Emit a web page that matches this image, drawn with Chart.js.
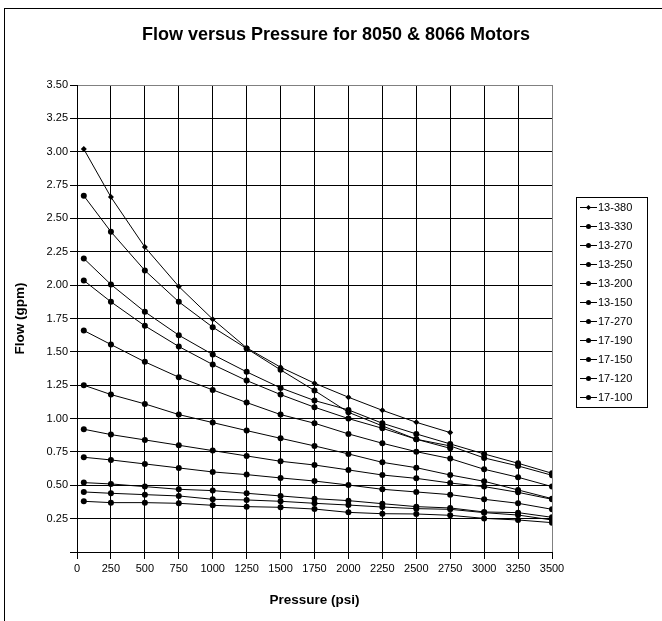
<!DOCTYPE html>
<html><head><meta charset="utf-8">
<script src="https://cdn.jsdelivr.net/npm/chart.js@4.4.1/dist/chart.umd.min.js"></script>
<style>html,body{margin:0;padding:0;background:#fff}canvas{display:block}</style>
</head><body>
<canvas id="c" width="662" height="621"></canvas>
<script>
const pressure = [50,250,500,750,1000,1250,1500,1750,2000,2250,2500,2750,3000,3250,3500];
const seriesNames = ['13-380','13-330','13-270','13-250','13-200','13-150','17-270','17-190','17-150','17-120','17-100'];
const flow_13_380 = [3.02,2.66,2.285,1.99,1.745,1.53,1.385,1.265,1.16,1.062,0.972,0.895];
const flow_13_330 = [2.67,2.40,2.11,1.875,1.685,1.525,1.365,1.21,1.047,0.945,0.845,0.777];
const flow_13_270 = [2.20,2.005,1.80,1.625,1.48,1.35,1.23,1.135,1.065,0.965,0.885,0.81,0.735,0.665,0.59];
const flow_13_250 = [2.035,1.875,1.695,1.54,1.405,1.285,1.18,1.085,1.00,0.927,0.845,0.795,0.705,0.645,0.575];
const flow_13_200 = [1.66,1.555,1.425,1.31,1.215,1.12,1.03,0.965,0.885,0.815,0.752,0.70,0.62,0.56,0.49];
const flow_13_150 = [1.25,1.18,1.11,1.03,0.97,0.91,0.852,0.795,0.735,0.672,0.632,0.577,0.53,0.465,0.40];
const flow_17_270 = [0.92,0.88,0.84,0.80,0.76,0.72,0.68,0.652,0.615,0.577,0.552,0.517,0.49,0.447,0.395];
const flow_17_190 = [0.71,0.69,0.66,0.63,0.60,0.58,0.555,0.532,0.502,0.47,0.45,0.43,0.395,0.365,0.32];
const flow_17_150 = [0.52,0.51,0.49,0.47,0.46,0.44,0.42,0.40,0.385,0.362,0.34,0.33,0.30,0.295,0.26];
const flow_17_120 = [0.45,0.44,0.43,0.42,0.395,0.39,0.38,0.365,0.352,0.337,0.325,0.32,0.295,0.277,0.24];
const flow_17_100 = [0.38,0.37,0.37,0.365,0.35,0.34,0.335,0.322,0.297,0.287,0.285,0.275,0.252,0.24,0.22];
const xTicks = [0,250,500,750,1000,1250,1500,1750,2000,2250,2500,2750,3000,3250,3500];
const yTicks = [0,0.25,0.5,0.75,1,1.25,1.5,1.75,2,2.25,2.5,2.75,3,3.25,3.5];
const yTickLabels = ['','0.25','0.50','0.75','1.00','1.25','1.50','1.75','2.00','2.25','2.50','2.75','3.00','3.25','3.50'];

const flows = [flow_13_380,flow_13_330,flow_13_270,flow_13_250,flow_13_200,flow_13_150,flow_17_270,flow_17_190,flow_17_150,flow_17_120,flow_17_100];
const FAM = "'Liberation Sans', Arial, sans-serif";
Chart.defaults.font.family = FAM;
Chart.defaults.color = '#000';

const frame = {
  id: 'frame',
  beforeDraw(chart) {
    const c = chart.ctx;
    c.save();
    c.fillStyle = '#fff';
    c.fillRect(0, 0, chart.width, chart.height);
    c.strokeStyle = '#000';
    c.lineWidth = 1;
    c.strokeRect(4.5, 8.5, 800, 800);
    c.restore();
  }
};

const legendBox = {
  id: 'legendBox',
  afterDraw(chart) {
    const c = chart.ctx;
    const L = 576, T = 197, W = 71, rowH = 19;
    const n = chart.data.datasets.length;
    const H = n * rowH + 1;
    c.save();
    c.fillStyle = '#fff';
    c.fillRect(L, T, W, H);
    c.strokeStyle = '#000';
    c.lineWidth = 1;
    c.strokeRect(L + 0.5, T + 0.5, W, H);
    c.font = '11px ' + FAM;
    c.textBaseline = 'middle';
    c.textAlign = 'left';
    chart.data.datasets.forEach((ds, i) => {
      const y = Math.round(T + 10 + i * rowH) + 0.5;
      c.beginPath();
      c.moveTo(L + 4, y);
      c.lineTo(L + 21, y);
      c.strokeStyle = '#000';
      c.stroke();
      c.fillStyle = '#000';
      Chart.helpers.drawPoint(c, {pointStyle: ds.pointStyle, radius: 2.5, borderWidth: 0}, L + 12.5, y);
      c.fillStyle = '#000';
      c.fillText(ds.label, L + 22, y + 0.5);
    });
    c.restore();
  }
};

new Chart(document.getElementById('c'), {
  type: 'line',
  data: {
    datasets: seriesNames.map((name, i) => ({
      label: name,
      data: flows[i].map((y, j) => ({x: pressure[j], y: y})),
      borderColor: '#000',
      backgroundColor: '#000',
      borderWidth: 1,
      pointRadius: 3,
      pointHoverRadius: 3,
      pointBorderWidth: 0,
      pointBackgroundColor: '#000',
      pointStyle: i === 0 ? 'rectRot' : 'circle',
      tension: 0,
      fill: false
    }))
  },
  options: {
    responsive: false,
    animation: false,
    devicePixelRatio: 1,
    layout: {padding: {left: 10, right: 0, top: 0, bottom: 0}},
    plugins: {
      legend: {display: false},
      tooltip: {enabled: false},
      title: {
        display: true,
        text: 'Flow versus Pressure for 8050 & 8066 Motors',
        color: '#000',
        font: {family: FAM, size: 18, weight: 'bold'},
        padding: {top: 24, bottom: 39.4}
      }
    },
    scales: {
      x: {
        type: 'linear', min: 0, max: 3500,
        afterBuildTicks: s => { s.ticks = xTicks.map(v => ({value: v})); },
        afterFit: s => { s.height = 69; },
        ticks: {color: '#000', font: {size: 11}, padding: 3, maxRotation: 0, autoSkip: false, callback: v => String(v)},
        grid: {color: c => (c.tick && c.tick.value === 3500) ? '#808080' : '#000', lineWidth: 1, tickLength: 7, tickColor: '#000'},
        border: {color: '#000', width: 1},
        title: {display: true, text: 'Pressure (psi)', color: '#000', font: {family: FAM, size: 13.5, weight: 'bold'}, padding: {top: 0, bottom: 13}}
      },
      y: {
        type: 'linear', min: 0, max: 3.5,
        afterBuildTicks: s => { s.ticks = yTicks.map(v => ({value: v})); },
        afterFit: s => { s.width = 67; },
        ticks: {color: '#000', font: {size: 11}, padding: 2, autoSkip: false, callback: (v, idx) => yTickLabels[idx]},
        grid: {color: c => (c.tick && c.tick.value === 3.5) ? '#808080' : '#000', lineWidth: 1, tickLength: 7, tickColor: '#000'},
        border: {color: '#000', width: 1},
        title: {display: true, text: 'Flow (gpm)', color: '#000', font: {family: FAM, size: 13.5, weight: 'bold'}, padding: {top: 2, bottom: 0}}
      },
      legendSpace: {
        type: 'linear', position: 'right', display: true,
        ticks: {display: false}, grid: {display: false}, border: {display: false},
        afterFit: s => { s.width = 110; }
      }
    }
  },
  plugins: [frame, legendBox]
});
</script>
</body></html>
